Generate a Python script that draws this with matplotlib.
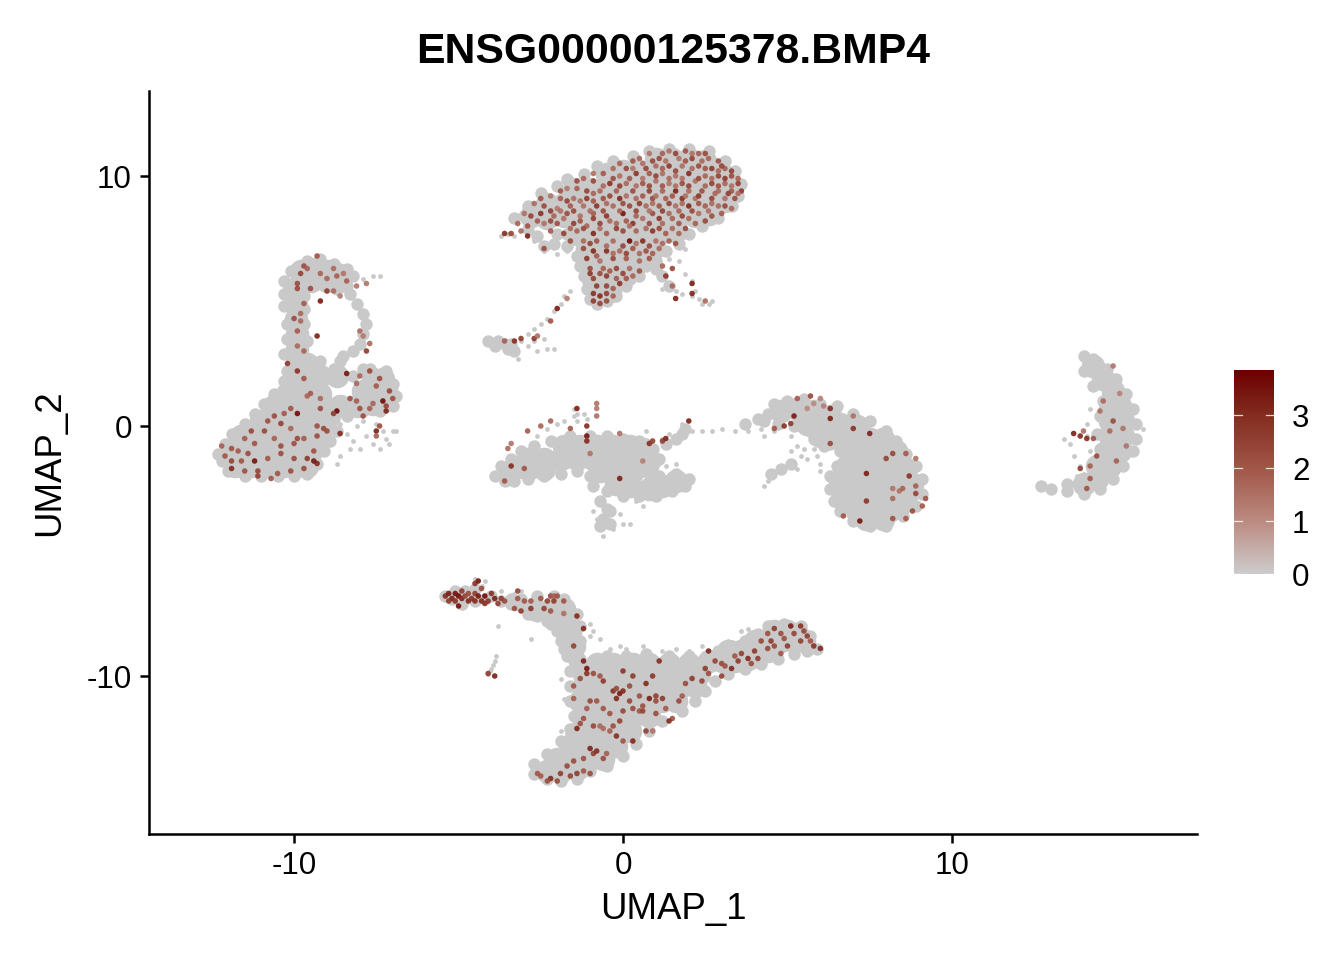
import matplotlib
matplotlib.use("Agg")
import matplotlib.pyplot as plt
from matplotlib.colors import LinearSegmentedColormap

plt.rcParams['font.family'] = ['Liberation Sans', 'DejaVu Sans']
plt.rcParams['axes.unicode_minus'] = False

title = "ENSG00000125378.BMP4"
x_ticks = [-10, 0, 10]
y_ticks = [-10, 0, 10]
bar_ticks = [0, 1, 2, 3]
value_max = 3.85

# dense zones of unexpressing cells (x, y)
gray_core = [
 # top cluster
 (1.0,10.7),(1.5,10.7),(2.0,10.7),(2.5,10.6),
 (-0.5,10.1),(0,10.2),(0.5,10.2),(1,10.1),(1.5,10.1),(2,10.1),(2.5,10.1),(3,10.1),
 (-1.5,9.5),(-1,9.5),(-0.5,9.6),(0,9.5),(0.5,9.6),(1,9.5),(1.5,9.6),(2,9.5),(2.5,9.5),(3,9.5),(3.2,9.6),
 (-2.3,8.9),(-1.8,8.9),(-1.3,9),(-0.8,8.9),(-0.3,9),(0.2,8.9),(0.7,9),(1.2,8.9),(1.7,9),(2.2,8.9),(2.7,9),(3.1,9),
 (-2.8,8.4),(-2.3,8.3),(-1.8,8.4),(-1.3,8.3),(-0.8,8.4),(-0.3,8.3),(0.2,8.4),(0.7,8.3),(1.2,8.4),(1.7,8.4),(2.2,8.4),(2.6,8.5),
 (-1.4,7.7),(-0.9,7.7),(-0.4,7.8),(0.1,7.7),(0.6,7.8),(1.1,7.7),(1.6,7.8),
 (-1.1,7.1),(-0.6,7.1),(-0.1,7.1),(0.4,7.1),(0.9,7.1),
 (-1,6.5),(-0.5,6.5),(0,6.5),(0.4,6.5),(-0.9,5.9),(-0.5,5.9),(-0.1,5.9),(-0.7,5.3),(-0.4,5.4),
 # left cluster
 (-11.8,-1.6),(-11.3,-1.6),(-10.8,-1.6),(-10.3,-1.6),(-9.9,-1.6),(-9.6,-1.6),
 (-11.9,-1),(-11.4,-1),(-10.9,-1),(-10.4,-1),(-9.9,-1),(-9.5,-1),
 (-11.6,-0.4),(-11.1,-0.4),(-10.6,-0.4),(-10.1,-0.4),(-9.6,-0.4),(-9.2,-0.4),
 (-11,0.2),(-10.5,0.2),(-10,0.2),(-9.5,0.2),(-9.1,0.2),
 (-10.6,0.8),(-10.1,0.8),(-9.6,0.8),(-9.1,0.8),(-8.6,0.8),(-8.1,0.8),(-7.6,0.9),(-7.3,1),
 (-10.2,1.3),(-9.7,1.3),(-9.2,1.3),(-7.9,1.4),(-7.5,1.4),(-7.2,1.5),
 (-10,1.9),(-9.6,1.9),(-9.2,2),(-8.7,2),(-7.6,1.9),(-7.3,1.9),
 (-9.9,2.5),(-9.6,2.5),(-9.9,3.1),(-9.9,3.7),(-9.95,4.3),(-9.95,4.9),(-10,5.5),
 (-9.8,6.2),(-9.4,6.3),(-9,6.2),(-8.7,6.1),(-9.5,5.8),(-9,5.8),(-8.6,5.8),
 # middle crescent
 (-1.8,-0.8),(-1.3,-0.8),(-0.8,-0.8),(-0.3,-0.8),(0.2,-0.8),(0.6,-0.9),
 (-2.9,-1.3),(-2.4,-1.3),(-1.9,-1.3),(-1.4,-1.3),(-0.9,-1.3),(-0.4,-1.3),(0.1,-1.3),(0.6,-1.4),(0.8,-1.4),
 (-3.4,-1.8),(-2.9,-1.7),(-2.4,-1.7),(-0.7,-1.8),(-0.2,-1.8),(0.3,-1.8),
 (-0.2,-2.3),(0.2,-2.4),(0.8,-2.5),(1.2,-2.4),(1.6,-2.2),
 # comma
 (4.8,0.6),(5.3,0.7),(5.8,0.6),(6.3,0.4),
 (5.6,0.1),(6.1,0.1),(6.6,0.1),(7.1,0),
 (6,-0.4),(6.5,-0.4),(7,-0.4),(7.5,-0.5),(7.9,-0.5),
 (6.9,-1),(7.4,-1),(7.9,-1),(8.3,-1),
 (6.8,-1.6),(7.3,-1.6),(7.8,-1.6),(8.3,-1.6),(8.6,-1.7),
 (6.6,-2.2),(7.1,-2.2),(7.6,-2.2),(8.1,-2.2),(8.6,-2.2),(8.8,-2.3),
 (6.7,-2.8),(7.2,-2.8),(7.7,-2.8),(8.2,-2.8),(8.6,-2.8),
 (7.1,-3.4),(7.6,-3.4),(8.1,-3.4),(8.4,-3.2),(7.4,-3.7),(7.9,-3.7),
 # bottom cluster
 (-2.7,-7.3),(-2.2,-7.3),(-1.8,-7.3),(-2,-7.7),(-1.7,-7.8),(-1.6,-8.3),(-1.5,-8.8),
 (-1.2,-9.9),(-0.7,-9.9),(-0.2,-9.9),(0.3,-9.9),(0.8,-9.9),(1.3,-9.9),(1.8,-9.9),(2.3,-9.9),
 (-1.2,-10.4),(-0.7,-10.4),(-0.2,-10.4),(0.3,-10.4),(0.8,-10.4),(1.3,-10.4),(1.8,-10.4),(2.2,-10.4),
 (-1.3,-11),(-0.8,-11),(-0.3,-11),(0.2,-11),(0.7,-11),(1.2,-11),(1.6,-11),
 (-1.2,-11.6),(-0.7,-11.6),(-0.2,-11.6),(0.3,-11.6),(0.8,-11.6),
 (-1.3,-12.2),(-0.8,-12.2),(-0.3,-12.2),(0.2,-12.2),
 (-1.6,-12.8),(-1.1,-12.8),(-0.6,-12.8),(-0.2,-12.8),
 (-2,-13.3),(-1.5,-13.3),(-1,-13.3),(-0.6,-13.3),(-2.3,-13.8),(-1.9,-13.8),(-1.4,-13.7),
 (2.6,-9.4),(3,-9.4),(3.4,-9.4),(3.8,-9.3),(3.2,-9),(3.6,-9),(4,-9),(4.4,-9),
 (4,-8.6),(4.4,-8.6),(4.8,-8.6),(5.2,-8.6),(5.5,-8.6),(4.6,-8.2),(5,-8.2),(5.3,-8.3),
 (-0.8,-9.5),(-0.3,-9.5),(0.3,-9.5),(0.8,-9.5),(1.4,-9.5),(2,-9.5),
 # crescent on the right
 (14.3,2.4),(14.6,1.9),(14.9,1.4),(15.1,0.8),(14.8,0.7),(15.2,0.2),(14.8,0.2),(15.2,-0.4),(14.8,-0.4),
 (15.1,-1),(14.7,-1),(14.8,-1.6),(14.4,-1.6),(14.4,-2.1),(14,-2.3),
]

# outline zones (x, y)
gray_edge = [
 (-3.3,8.3),(-3,8.4),(-2.9,8.8),(-2.5,9.3),(-2,9.6),(-1.7,9.9),(-1.2,10.1),(-0.8,10.4),(-0.3,10.6),(0.3,10.8),
 (0.8,11),(1.4,11.1),(2,11.1),(2.6,11),(3.1,10.6),(3.4,10.2),(3.6,9.7),(3.5,9.2),(3.3,8.8),(2.9,8.3),(2.4,8),(2,7.7),(1.7,7.3),
 (1.3,7),(1,6.6),(0.7,6.4),(0.5,6),(0.2,5.9),(0.1,5.6),(-0.2,5.2),(-0.5,5),(-0.8,4.9),(-1,5.1),(-1.1,5.5),(-1.2,6),(-1.3,6.4),
 (-1.4,6.8),(-1.7,7.2),(-2.1,7.3),(-2.4,7.2),(-2.6,7.6),(-2.9,7.9),(-2,7.7),(-1.7,7.7),(1,6.3),(1.2,6),(1.4,5.6),(0.8,6.5),
 (-4.1,3.4),(-3.8,3.4),(-3.6,3.3),(-3.5,3.1),(-3.9,3.2),(-3.3,3.0),(-3.4,3.3),
 (-12.2,-1.4),(-12.3,-1.1),(-12.1,-0.7),(-11.9,-0.3),(-11.5,0.1),(-11.2,0.5),(-10.9,0.9),(-10.6,1.3),(-10.3,1.8),(-10.2,2.2),
 (-12,-1.8),(-11.5,-2),(-11,-2),(-10.5,-2),(-10,-2),(-9.6,-1.9),(-9.3,-1.5),(-9.1,-1),(-8.9,-0.6),(-8.7,-0.2),(-8.8,0.3),
 (-8.4,0.4),(-7.9,0.6),(-7.4,0.6),(-7,0.8),(-6.9,1.2),(-7,1.7),(-7.2,2.2),(-7.7,2.3),(-8.2,2),(-8.8,2.3),(-9.2,2.6),(-8.6,2.6),(-7.9,2.3),
 (-10.3,2.9),(-10.2,3.5),(-9.6,3.4),(-10.2,4.1),(-9.7,4.1),(-10.3,4.8),(-9.7,4.7),(-10.3,5.3),(-9.7,5.2),(-10.3,5.8),(-10.1,6.2),
 (-9.6,6.6),(-9.2,6.7),(-8.8,6.5),(-8.4,6.3),(-8.2,6),(-8.4,5.6),(-8.7,5.5),(-8.3,5.3),(-8.1,4.9),(-7.9,4.5),(-7.8,4.1),(-7.9,3.7),(-8,3.3),(-8.2,3),(-8.5,2.8),
 (-3.9,-2),(-3.7,-1.6),(-3.4,-1.3),(-3.1,-1),(-2.7,-0.8),(-2.2,-0.6),(-1.6,-0.4),(-1,-0.4),(-0.5,-0.4),(0,-0.5),(0.5,-0.6),(0.9,-0.9),(1.1,-1.3),
 (-3.6,-2.2),(-3.3,-2.2),(-2.9,-2.1),(-2.4,-2),(-1.9,-1.9),(-1.4,-1.8),(-1,-2),(-0.9,-2.4),(-0.5,-2.6),(0,-2.8),(0.5,-2.8),(1,-2.8),(1.5,-2.6),(1.9,-2.4),(2,-2.1),(1.6,-1.9),(1.1,-2),(0.8,-1.9),
 (-0.7,-3),(-0.5,-3.3),(-0.6,-3.7),(-0.4,-3.4),(-0.7,-4),(-0.4,-3.9),
 (1.3,-0.7),(1.6,-0.5),(1.8,-0.3),(1.9,-0.1),
 (3.7,0.1),(4.1,0.3),(4.4,0.5),(4.6,0.9),(5,1),(5.5,1.1),(6,0.9),(6.5,0.8),(7,0.5),(7.5,0.2),(8,-0.2),(8.3,-0.6),(8.6,-1.1),(8.9,-1.6),(9.1,-2.1),(9.1,-2.7),(8.9,-3.2),(8.5,-3.6),(8,-4),(7.5,-4),(7,-3.8),(6.6,-3.4),(6.4,-3),(6.3,-2.5),(6.3,-2),(6.5,-1.6),(6.6,-1),(6.3,-0.7),(5.7,-0.2),(5.2,0),(4.7,0.1),(4.3,0.2),(5.8,-0.5),(6.1,-0.8),
 (4.5,-1.9),(4.8,-1.7),(5.1,-1.5),
 (-5.4,-6.8),(-5.2,-6.9),(-5.1,-6.6),(-4.8,-6.6),(-4.5,-6.5),(-4.9,-7.1),(-4.5,-7),(-4.2,-6.9),(-4,-6.8),(-3.7,-7),(-3.4,-7.1),(-3.1,-7.2),(-3.1,-6.9),(-2.6,-6.8),(-2.1,-6.8),(-1.8,-6.9),(-2.6,-7.6),(-2.3,-7.8),(-1.4,-7.5),(-1.3,-8),(-2,-8.2),(-1.9,-8.6),(-1.3,-8.6),(-1.7,-9.2),(-1.3,-9.3),(-0.9,-9.4),(-1.6,-9.8),(-1.6,-10.4),(-1.6,-11),(-1.5,-11.6),(-1.6,-12.1),(-1.9,-12.6),(-2.3,-13.1),(-2.7,-13.5),(-2.7,-13.9),(-2.3,-14.1),(-1.9,-14.2),(-1.4,-14.1),(-1,-13.8),(-0.5,-13.6),(0,-13.2),(0.4,-12.7),(0.8,-12.2),(1.2,-11.8),(1.8,-11.4),(2.2,-11),(2.5,-10.6),(2.8,-10.2),(3.2,-9.9),(3.7,-9.7),(4.2,-9.5),(4.7,-9.3),(5.2,-9.1),(5.6,-9),(5.9,-8.9),(5.7,-8.4),(5.4,-8),(4.9,-7.9),(4.4,-8),(4.1,-8.3),(3.7,-8.6),(3.3,-8.8),(2.9,-9),(2.5,-9.3),(2,-9.2),(1.4,-9.2),(0.7,-9.1),(0.1,-9.2),(-0.5,-9.2),
 (-4.7,-6.8),(-3.4,-6.9),(-2.9,-7.5),(-2.2,-7.9),(-1.8,-8.9),(-1.5,-9.4),
 (14,2.8),(14.3,2.7),(14.7,2.3),(15,1.9),(15.3,1.3),(15.5,0.7),(15.6,0.1),(15.6,-0.5),(15.5,-1),(15.2,-1.6),(14.9,-2.1),(14.5,-2.5),(14,-2.7),(13.5,-2.6),(13,-2.5),(12.7,-2.4),(13.5,-2.3),(14.5,-0.9),(14.4,-0.3),(14.5,0.4),(14.6,1),(14.3,1.6),(14,2.2),
]

# lone points (x, y)
gray_stray = [
 (-8.6,5.9),(-8.2,5.9),(-7.9,5.9),(-7.6,6),(-7.4,6),(-8.6,0.1),(-8.4,-0.3),(-8.2,-0.6),(-8,-0.9),(-7.8,-0.4),(-7.6,-0.7),(-7.4,-0.9),(-7.2,-0.5),(-7.1,-0.7),(-7.5,0.1),(-7.9,0.2),(-8.3,-0.9),(-8.6,-1.2),(-8.7,-1.5),(-7,-0.2),(-7.3,-0.2),(-6.9,-0.2),(-8.1,0),
 (-3.1,3.4),(-2.9,3.7),(-2.7,3.9),(-2.5,4.1),(-2.3,4.3),(-2.1,4.6),(-1.9,4.9),(-1.8,5.2),(-1.6,5.4),(-2.9,3.2),(-2.6,3),(-2.3,3.1),(-2.1,3.1),(-2.4,3.5),(-3.3,2.9),(-3.2,2.7),(-2.7,3.4),
 (1.9,6.1),(2.1,5.8),(2.2,5.4),(2.3,5.1),(2.4,4.9),(2.6,4.9),(2.1,5.2),(1.6,5.4),(1.8,5.3),(1.2,5.5),(2.7,5),(-3.7,7.6),(-3.5,7.7),(-3.3,7.6),(-2.4,7),(-2,6.9),(-1.7,7),(-2.7,7.4),(1.7,6.6),(1.9,7.1),(1.4,6.7),
 (-1.5,0.4),(-1.5,0.7),(-1.4,0.5),(-1.2,0.5),(-1.8,0.2),(-2,0.1),(-2.3,-0.1),(-2.6,-0.4),(-1.1,0.3),(-1.4,0.2),(1.4,-0.3),(1.2,-0.5),(1.8,0.1),(2.1,-0.2),(2.4,-0.2),(2.7,-0.2),(3,-0.1),(3.4,-0.2),(0.7,-0.2),(1,-1.7),(1.3,-1.6),(1.6,-1.5),
 (-0.9,-3.4),(-0.8,-3.7),(-0.6,-4.4),(-0.3,-4.1),(0,-3.9),(0.2,-3.9),(-0.1,-3.5),(0.4,-3),(0.6,-3.2),
 (3.8,-0.2),(4.2,-0.1),(4.3,-0.4),(4.6,-0.2),(5.1,-0.4),(5.3,-0.8),(5.1,-1),(5.5,-0.9),(5.4,-1.2),(5.6,-1.3),(4.4,-2.2),(4.3,-2.4),(5.9,-1.2),(6,-1.5),(6,-1.8),(5.3,-1.7),(5.8,-0.9),
 (-4.2,-6.2),(-4.3,-6.4),(-4.5,-6.1),(-3.7,-6.6),(-3.3,-6.7),(-3.1,-6.6),(-3.8,-8),(-2.8,-8.5),(-1,-7.9),(-0.9,-8.2),(-1,-8.4),(-0.7,-8.5),(-0.4,-8.9),(-0.1,-8.8),(0.1,-8.9),(0.6,-8.8),(1.2,-9),(1.6,-8.9),(2,-9),(2.4,-8.8),(3.2,-8.6),(3.6,-8.2),(3.8,-8.1),(-1.9,-10.1),(-1.8,-10.9),(-1.7,-12.3),(-1.9,-12.2),
 (-4.1,-9.9),(-4.05,-9.8),(-4,-9.7),(-3.95,-9.55),(-3.9,-9.4),(-3.85,-9.2),
 (13.6,-0.7),(13.7,-1.2),(13.9,-1.6),(14,-1.9),(14.1,-0.4),(14.2,-1),(14.2,-1.4),(13.8,-2),(14.1,0.1),(14.2,0.7),(15.8,-0.1),(13.4,-0.5),
]

# cells with expression (x, y, value)
expr_top = [
 (1.4,11.0,1.5),(1.9,11.0,2.0),(2.3,10.9,1.8),(0.8,10.9,1.4),(1.1,10.7,2.2),(1.7,10.7,1.4),(2.1,10.7,2.5),(2.6,10.7,1.7),(2.9,10.6,2.2),
 (0.3,10.6,2.0),(0.6,10.5,1.5),(1.0,10.4,1.6),(1.4,10.4,2.6),(1.8,10.4,1.5),(2.3,10.4,2.2),(2.7,10.3,2.6),(3.1,10.3,1.8),(-0.3,10.3,1.6),(0.1,10.3,2.3),
 (-0.6,10.1,1.9),(-0.1,10.0,1.5),(0.4,10.1,2.7),(0.8,10.1,1.9),(1.2,10.1,1.5),(1.6,10.0,1.5),(2.0,10.1,2.9),(2.5,10.0,1.7),(2.9,10.0,2.4),(3.3,10.0,2.2),
 (-1.2,9.9,1.7),(-0.9,9.8,2.3),(-0.4,9.7,2.8),(0.1,9.7,1.6),(0.6,9.7,2.0),(1.0,9.8,1.5),(1.4,9.7,1.4),(1.8,9.7,2.2),(2.2,9.8,1.5),(2.7,9.7,2.5),(3.1,9.7,1.7),(3.5,9.7,2.5),
 (-1.7,9.5,1.3),(-1.4,9.5,1.8),(-1.1,9.4,2.4),(-0.7,9.4,1.6),(-0.2,9.4,1.8),(0.3,9.4,2.2),(0.8,9.4,2.5),(1.2,9.4,1.7),(1.6,9.4,3.1),(2.0,9.4,1.6),(2.4,9.4,2.1),(2.9,9.4,1.6),(3.3,9.4,1.9),(3.6,9.4,2.6),
 (-2.2,9.2,1.4),(-1.9,9.1,1.8),(-1.5,9.1,1.5),(-1.1,9.1,2.6),(-0.6,9.1,2.1),(-0.1,9.1,3.0),(0.4,9.1,1.6),(0.9,9.1,2.3),(1.3,9.1,1.8),(1.8,9.1,2.9),(2.2,9.1,1.5),(2.7,9.1,2.4),(3.1,9.1,1.5),(3.4,9.1,2.2),
 (-2.7,8.9,1.6),(-2.4,8.8,2.2),(-2.0,8.7,1.3),(-1.6,8.8,1.9),(-1.2,8.8,1.5),(-0.8,8.8,2.7),(-0.3,8.8,1.6),(0.2,8.8,2.3),(0.7,8.8,1.6),(1.1,8.8,2.0),(1.6,8.8,1.5),(2.0,8.8,3.0),(2.5,8.8,1.8),(2.9,8.8,1.6),
 (-3.0,8.5,1.5),(-2.8,8.4,2.4),(-2.5,8.5,2.8),(-2.1,8.4,1.7),(-1.7,8.5,2.2),(-1.3,8.4,1.5),(-0.9,8.5,1.9),(-0.5,8.4,2.7),(0.0,8.5,3.4),(0.4,8.4,1.7),(0.9,8.5,2.1),(1.4,8.5,1.6),(1.8,8.4,2.4),(2.3,8.5,1.5),(2.7,8.4,2.1),
 (-3.2,8.1,1.7),(-2.9,8.0,2.0),(-2.4,8.1,1.5),(-2.0,8.1,2.1),(-1.5,8.1,2.5),(-1.1,8.0,1.7),(-0.7,8.1,2.4),(-0.2,8.1,1.6),(0.3,8.1,2.8),(0.8,8.1,2.2),(1.2,8.1,1.6),(1.7,8.1,2.0),(2.2,8.1,1.8),
 (-3.6,7.7,2.9),(-3.4,7.7,2.4),(-3.1,7.8,1.6),(-1.8,7.7,2.5),(-1.4,7.8,1.7),(-0.9,7.7,3.0),(-0.5,7.7,1.8),(0.0,7.8,2.3),(0.4,7.8,1.7),(0.9,7.8,2.7),(1.3,7.7,1.9),(1.7,7.7,1.7),
 (-2.9,7.6,3.2),(-1.6,7.4,2.2),(-1.2,7.4,1.6),(-0.8,7.4,2.0),(-0.3,7.4,1.6),(0.2,7.4,3.6),(0.6,7.4,2.9),(1.0,7.4,1.5),(1.4,7.4,1.8),
 (-2.4,7.1,2.2),(-1.2,7.1,2.3),(-0.9,7.0,3.0),(-0.5,7.0,2.9),(-0.1,7.0,1.6),(0.3,7.1,2.0),(0.7,7.0,2.1),(1.1,7.1,1.6),
 (-1.1,6.7,2.7),(-0.7,6.6,1.5),(-0.3,6.7,2.3),(0.1,6.7,1.9),(0.5,6.6,1.6),(0.8,6.7,2.0),(1.2,6.4,1.7),(1.5,6.3,2.3),
 (-1.0,6.3,2.2),(-0.6,6.3,1.8),(-0.2,6.3,2.4),(0.2,6.3,1.6),(0.5,6.2,2.1),(1.3,6.0,2.7),(1.5,5.6,1.7),
 (-0.9,5.9,2.4),(-0.5,6.0,2.6),(-0.2,5.9,1.9),(0.1,5.9,2.0),(-0.8,5.6,2.6),(-0.5,5.6,2.4),(-0.3,5.5,1.9),(-0.1,5.7,2.7),
 (-0.9,5.3,2.8),(-0.7,5.2,3.0),(-0.5,5.3,2.5),(-0.3,5.2,1.8),(-0.9,5.0,2.6),(-0.7,4.9,2.4),(-0.5,5.0,2.3),
 (2.1,5.7,3.2),(2.1,5.3,3.1),(1.6,5.1,3.2),(2.5,5.0,1.6),
 (-3.6,3.4,1.8),(-3.3,3.4,2.9),(-3.1,3.5,2.6),(-2.7,3.5,2.7),(-2.6,3.6,1.5),(-2.2,4.2,2.0),(-2.0,4.7,3.3),(-1.7,5.1,1.3),
]
# second pass over the same cluster, between the dots above
expr_top_more = [
 (1.2,10.9,1.8),(1.6,10.9,2.4),(2.1,10.9,1.5),(2.5,10.9,2.3),(0.5,10.7,1.7),(0.9,10.6,2.3),(1.3,10.6,1.5),(1.9,10.6,2.0),(2.4,10.6,1.6),(3.0,10.4,2.4),
 (-0.1,10.5,1.7),(0.3,10.3,1.4),(0.7,10.3,2.4),(1.2,10.3,1.8),(1.6,10.2,2.3),(2.1,10.3,1.6),(2.5,10.3,2.0),(2.9,10.2,1.7),(3.3,10.2,2.5),
 (-0.9,10.1,1.5),(-0.3,9.9,2.2),(0.2,9.9,1.9),(0.6,9.9,1.4),(1.0,10.0,2.4),(1.4,9.9,1.6),(1.8,9.9,1.5),(2.3,9.9,2.3),(2.7,9.9,1.6),(3.1,9.9,2.6),(3.5,9.9,1.8),
 (-1.4,9.8,2.2),(-0.6,9.6,1.6),(-0.1,9.6,2.5),(0.4,9.6,1.5),(0.8,9.6,2.3),(1.2,9.6,2.0),(1.6,9.6,1.5),(2.0,9.6,2.4),(2.5,9.6,1.7),(2.9,9.6,2.1),(3.3,9.6,1.5),
 (-1.9,9.4,2.0),(-0.9,9.3,1.7),(-0.4,9.2,2.3),(0.1,9.2,1.5),(0.6,9.2,1.9),(1.0,9.2,1.5),(1.5,9.2,2.0),(1.9,9.2,1.5),(2.3,9.2,2.7),(2.8,9.3,1.7),(3.2,9.3,2.5),(3.5,9.3,1.6),
 (-2.5,9.1,2.0),(-1.7,9.0,2.4),(-1.3,9.0,1.5),(-0.9,9.0,1.9),(-0.5,8.9,1.6),(0.0,8.9,2.2),(0.5,8.9,2.6),(0.9,8.9,1.5),(1.4,8.9,2.4),(1.8,8.9,1.6),(2.3,8.9,2.0),(2.7,8.9,1.6),(3.1,8.8,2.3),(3.3,8.7,1.7),
 (-2.2,8.6,2.5),(-1.9,8.6,1.5),(-1.5,8.6,2.3),(-1.0,8.6,1.6),(-0.6,8.6,2.2),(-0.1,8.6,1.7),(0.4,8.6,2.4),(0.8,8.6,1.5),(1.2,8.6,2.5),(1.7,8.6,1.7),(2.1,8.6,2.3),(2.6,8.6,1.5),(3.0,8.5,1.9),
 (-2.6,8.2,1.9),(-2.2,8.2,2.3),(-1.8,8.3,1.5),(-1.3,8.2,2.0),(-0.9,8.3,2.5),(-0.4,8.2,1.6),(0.1,8.2,1.9),(0.6,8.3,1.5),(1.1,8.3,2.7),(1.5,8.3,1.7),(2.0,8.3,1.6),(2.5,8.2,2.3),
 (-2.2,7.8,1.9),(-1.6,7.9,1.6),(-1.2,7.9,2.3),(-0.7,7.9,1.5),(-0.2,7.9,2.5),(0.2,8.0,1.6),(0.7,7.9,1.6),(1.1,7.9,2.3),(1.5,7.9,1.6),(1.9,7.9,2.2),
 (-1.0,7.3,2.4),(-0.5,7.2,1.6),(0.0,7.2,2.4),(0.4,7.3,1.5),(0.8,7.2,2.3),(1.2,7.3,1.6),(1.6,7.3,2.1),
 (-0.8,6.8,1.9),(-0.3,6.9,1.6),(0.1,6.9,2.4),(0.5,6.9,1.6),(0.9,6.9,1.8),(-1.0,6.1,2.7),(-0.7,6.1,2.2),(-0.4,6.2,1.9),(0.0,6.1,2.4),(0.3,6.0,1.7),
]
expr_left = [
 (-9.3,6.8,2.0),(-9.7,6.4,2.2),(-9.6,6.3,1.8),(-9.8,6.1,2.4),(-9.2,6.1,1.7),(-8.7,6.0,1.8),(-8.8,6.3,1.6),(-8.5,6.1,1.4),(-8.4,5.8,1.8),(-9,5.9,1.7),(-9.9,5.7,2.2),(-9.9,5.5,2.3),(-9.5,5.5,2.2),(-9,5.4,2.6),(-8.8,5.4,1.6),(-8.6,5.2,1.3),(-9.2,5.0,3.3),(-8.1,5.6,1.4),(-7.8,5.7,1.4),
 (-9.7,4.9,1.9),(-9.8,4.5,1.6),(-10,4.3,2.2),(-9.8,4.2,1.6),(-9.9,3.8,1.9),(-9.3,3.6,3.2),(-9.9,3.2,1.6),(-9.7,3,1.7),(-8,3.8,1.5),(-7.9,3.6,1.3),(-7.7,3.3,1.6),(-7.8,3,2.6),(-10.2,2.5,2.6),(-9.9,2.2,2.8),(-9.7,1.9,2.0),(-8.4,2.1,3.4),
 (-8,2,1.7),(-7.5,1.6,1.9),(-7.1,1.4,2.3),(-7,1.1,2.1),(-7.3,1,3.6),(-7.2,0.8,2.4),(-7.2,0.6,3.1),(-7.6,0.9,1.7),(-7.7,0.7,1.8),(-8.3,1.1,2.1),(-8.1,1.0,1.8),(-8,0.7,2.1),(-7.9,0.4,2.2),(-8.1,1.7,1.6),(-7.4,1.9,2.2),(-7.7,2.2,2.3),
 (-8.7,0.6,3.7),(-8.8,0.5,2.6),(-9.2,0.7,2.2),(-9.5,1.3,1.9),(-9.2,1.1,1.6),(-9.6,1.2,1.7),(-9.9,0.5,3.6),(-10.1,0.7,2.0),(-10.6,0.4,2.2),(-10.3,0.5,1.9),(-10.4,0.1,2.5),(-10.8,0.2,2.1),(-10.9,-0.2,2.3),(-10.6,-0.5,1.8),
 (-9.3,0.0,2.1),(-9.1,-0.1,2.3),(-9,-0.2,2.2),(-8.6,-0.3,3.0),(-7.5,-0.2,3.2),(-7.4,0.0,2.2),(-7.5,-0.4,1.8),(-9.3,-0.4,2.2),(-9.7,-0.5,1.9),(-10,-0.7,2.1),(-10.4,-0.8,2.2),(-10.1,-0.1,1.7),(-11.3,-0.2,2.3),(-11.5,-0.5,1.9),(-11.2,-0.7,2.0),
 (-11.9,-0.9,2.1),(-11.7,-1,1.9),(-11.4,-1.1,2.2),(-11.9,-1.4,2.4),(-12.2,-0.8,1.8),(-12.1,-1.2,2.0),(-11.6,-1.4,2.0),(-11.2,-1.4,3.4),(-10.8,-1.3,2.0),(-10.4,-1.1,2.2),(-10,-1.3,2.3),(-9.6,-1.3,2.6),(-9.4,-1.0,2.1),(-9.3,-1.5,3.0),
 (-11.9,-1.7,3.0),(-11.5,-1.8,2.1),(-11.1,-1.8,2.4),(-10.5,-1.9,2.0),(-10.1,-1.8,2.2),(-9.7,-1.7,2.3),(-10.7,-2.1,2.0),(-11.1,-2.0,2.5),(-9.4,-1.4,3.4),(-9.9,-0.5,2.3),
]
expr_middle = [
 (-3.6,-2.2,2.0),(-3.4,-1.6,2.9),(-3.4,-0.7,1.4),(-3.5,-0.9,1.6),(-3.0,-1.7,2.0),(-2.9,-0.2,1.9),(-2.5,0,1.7),(-2.2,0.2,1.7),(-1.6,-0.1,1.9),(-1.1,0,2.9),(-1.1,-0.4,3.4),(-1.1,-0.6,3.0),(-1.4,0.7,3.2),(-0.8,0.9,1.4),(-0.8,0.7,1.3),(-0.8,0.4,1.5),(-0.1,-0.3,1.5),(-1,-1.1,1.4),(0.6,-1.4,1.2),(0.8,-0.7,2.9),(0.9,-0.6,2.5),(1.2,-0.6,2.5),(1.3,-0.5,3.1),(-0.1,-2.1,3.2),(2.0,0.2,3.2),
 (5.3,1.1,1.9),(5.7,1.2,2.3),(6,1.1,1.2),(5.8,0.9,1.0),(5.6,0.7,1.0),(6.1,0.8,1.2),(6.3,0.7,3.0),(5.2,0.4,3.3),(5.1,0.1,2.6),(4.6,-0.1,2.0),(4.9,0,2.8),(6.3,0.3,3.2),(7,0.4,1.5),(7,-0.1,2.8),(7.5,-0.3,3.1),(6.3,-0.7,2.3),
 (8.2,-1.1,2.3),(8.6,-1.1,1.9),(8.9,-1.3,1.4),(8,-1.3,2.4),(7.4,-1.9,3.2),(8.7,-2.0,2.8),(8.9,-2.4,1.8),(8.4,-2.6,1.4),(8.5,-2.5,1.7),(8.9,-2.7,2.4),(8.8,-3.4,2.2),(7.2,-3.8,3.4),(8.2,-3.7,2.1),(8.6,-3.7,1.9),(6.7,-3.6,2.0),(7.4,-3.0,2.8),(8.2,-2.5,1.4),(8.2,-2.9,1.6),(9.2,-2.9,2.0),(9.1,-3.2,1.9),
 (14.9,2.4,1.4),(15.1,1.3,1.2),(14.6,1,1.6),(14.5,0.6,1.5),(14.9,0.2,2.2),(15.2,-0.1,1.4),(13.7,-0.3,3.2),(13.9,-0.4,3.0),(14.1,-0.5,2.9),(14.3,-0.5,2.0),(14.0,-0.2,1.5),(14.8,-0.2,1.6),(15.3,-0.8,1.4),(14.4,-1.2,2.2),(14.2,-1.6,1.8),(14.2,-2.1,1.9),(13.9,-1.7,2.5),(15,-1.4,1.8),(14.1,-2.5,2.0),
]
expr_bottom = [
 (-5.4,-6.8,3.0),(-5.3,-6.7,3.3),(-5.2,-6.9,3.2),(-5.1,-6.7,3.5),(-5.1,-7,2.8),(-5,-6.8,3.6),(-4.9,-6.9,3.1),(-4.9,-6.6,2.6),(-4.8,-6.8,2.4),(-4.7,-7,3.0),(-4.7,-6.7,2.2),(-4.6,-6.9,2.8),(-4.5,-6.7,2.5),(-4.5,-7.0,3.0),(-4.4,-6.8,3.4),(-4.3,-7,3.0),(-4.2,-6.8,3.5),(-4.1,-7,2.7),(-4.0,-6.7,2.8),(-3.9,-6.9,3.2),(-3.8,-7.1,2.5),(-3.7,-6.9,2.6),(-4.5,-6.3,2.7),(-4.4,-6.2,3.4),(-4.3,-6.5,2.2),(-5.3,-7,2.6),(-5,-7.2,3.5),(-4.2,-7.1,2.8),(-3.6,-7,2.3),
 (-3.2,-6.6,2.4),(-3.2,-6.9,2.0),(-3,-7,2.0),(-2.8,-7,1.9),(-3.3,-7.3,2.2),(-3.1,-7.4,2.6),(-2.8,-7.3,2.7),(-2.5,-6.9,2.0),(-2.3,-7.0,2.5),(-2.2,-6.8,2.2),(-2.1,-6.8,1.8),(-2,-6.8,2.1),(-1.8,-7,2.0),(-2.4,-7.3,2.5),(-2.1,-7,2.6),(-2.2,-7.4,2.0),(-1.8,-7.5,1.5),(-1.4,-7.6,3.0),(-1.2,-8.1,3.0),(-1.5,-8.8,2.4),(-1.2,-9.4,3.2),(-1.1,-9.7,3.4),(-1.1,-9.9,2.8),(-1.3,-10.1,2.2),(-0.9,-9.9,2.2),(-0.7,-10,2.0),(-0.6,-10.2,2.6),(-1.5,-10.4,2.0),(-1.5,-10.9,1.8),(-1.4,-12.1,3.1),
 (-0.3,-10.6,2.8),(-0.2,-10.9,3.0),(-0.1,-10.7,3.3),(0.0,-10.6,3.0),(0.2,-10.4,2.2),(-0.2,-10.5,2.3),(0.2,-11.0,2.3),(0.3,-11.3,2.2),(0.5,-11.4,2.0),(0.6,-11.4,2.4),(0.6,-11.2,2.1),(0.5,-10.8,2.1),(1.2,-10.9,2.6),(1.0,-11.0,2.2),(1.0,-11.5,2.2),(1.3,-11.3,1.9),(1.5,-11.7,2.0),(1.4,-11.8,3.0),(0.8,-10.9,3.2),(1.0,-10.8,2.5),
 (0.0,-11.4,2.3),(-0.1,-11.8,2.4),(-0.3,-12,2.2),(-0.4,-11.5,2.0),(-0.6,-11.3,2.0),(-0.8,-11,2.0),(-1,-11.0,2.3),(-1.1,-11.3,1.9),(-1.2,-11.7,2.1),(-1.3,-11.9,2.2),(-0.9,-12,2.3),(-0.7,-12,1.6),(-0.6,-12.1,1.6),(-0.4,-12.2,1.8),(-0.2,-12.4,2.9),(0.0,-12.6,2.0),(0.3,-12.6,3.0),(0.7,-12.2,2.4),(0.9,-12.2,1.4),
 (-1.0,-12.9,3.1),(-0.9,-13.1,2.5),(-0.8,-13,2.9),(-0.6,-13.3,2.2),(-0.5,-13.1,1.8),(-1.2,-13.3,2.1),(-1.5,-13.4,2.2),(-1.7,-13.6,2.3),(-1.9,-13.9,2.5),(-1.6,-14,2.4),(-1.4,-13.9,2.6),(-1.2,-13.8,2.0),(-1.0,-13.9,2.2),(-2.0,-14.2,2.3),(-2.2,-14.1,3.0),(-2.3,-14.2,2.2),(-2.5,-14.0,1.9),(-2.6,-13.9,2.0),
 (0.9,-10.0,2.7),(1.9,-10.3,2.2),(2.1,-10.1,2.6),(2.4,-10.2,2.4),(2.5,-9.7,2.6),(2.6,-9.9,2.2),(2.8,-9.4,2.4),(3.0,-9.5,2.3),(3.1,-9.6,2.1),(3.0,-10,2.5),(3.3,-9.7,3.0),(3.4,-9.2,2.0),(3.5,-9.4,2.6),(3.6,-9.1,2.5),(3.8,-9.3,3.0),(3.9,-9.5,2.2),(4.0,-9.0,2.6),(4.1,-9.3,2.5),(4.4,-8.9,2.3),(4.6,-8.8,2.3),(4.8,-9.1,2.0),(4.9,-8.5,2.1),(5.0,-8.8,2.6),(5.2,-8.3,2.4),(5.4,-8.0,2.8),(5.1,-8.0,3.2),(5.5,-8.2,2.4),(5.6,-8.4,2.6),(5.8,-8.8,2.8),(6.0,-8.9,3.0),(5.4,-8.6,2.5),(5.7,-8.6,2.0),(4.8,-8.3,2.2),(4.6,-8.1,2.6),(4.4,-8.3,2.1),(4.5,-8.6,2.6),(4.2,-8.6,2.3),
 (0.0,-9.8,2.7),(0.3,-10.0,2.6),(0.7,-10.3,3.0),(1.1,-9.4,2.9),(2.6,-9.0,3.0),(-4.1,-9.9,2.6),(-3.9,-10.0,3.2),(1.8,-10.8,1.9),(1.7,-11.0,2.3),
]

cmap = LinearSegmentedColormap.from_list(
    "feature", [(0, "#CCCCCC"), (1/value_max, "#BB8A80"), (2/value_max, "#A15648"),
                (3/value_max, "#832C20"), (1, "#6B0000")])

fig = plt.figure(figsize=(6.72, 4.8), dpi=200)
ax = fig.add_axes([149/1344, 1-834/960, (1197-149)/1344, (834-91)/960])
GRAY = "#C9C9C9"
for pts, s in ((gray_core, 72), (gray_edge, 20), (gray_stray, 3.0)):
    ax.scatter([p[0] for p in pts], [p[1] for p in pts], s=s, c=GRAY, linewidths=0, zorder=2)
sc = None
for pts in (expr_left, expr_middle, expr_bottom, expr_top, expr_top_more):
    sc = ax.scatter([p[0] for p in pts], [p[1] for p in pts], c=[p[2] for p in pts],
                    s=4.0, cmap=cmap, vmin=0, vmax=value_max, linewidths=0, alpha=0.92, zorder=3)

ax.set_xlim(-14.41, 17.45)
ax.set_ylim(-16.32, 13.4)
ax.set_xticks(x_ticks)
ax.set_yticks(y_ticks)
ax.tick_params(labelsize=11.3, width=0.9, length=3.2, pad=3, colors="black")
ax.spines[['top', 'right']].set_visible(False)
ax.spines[['left', 'bottom']].set_linewidth(0.9)
ax.set_xlabel("UMAP_1", fontsize=13.2, labelpad=4)
ax.set_ylabel("UMAP_2", fontsize=13.2, labelpad=7)
ax.set_title(title, fontsize=15.4, fontweight="bold", pad=10)

cax = fig.add_axes([1234/1344, 1-574/960, 40/1344, 204/960])
cb = fig.colorbar(sc, cax=cax)
cb.solids.set_alpha(1)
cb.outline.set_visible(False)
cb.set_ticks(bar_ticks)
cax.tick_params(length=0, labelsize=11.3, pad=6.5)
for v in bar_ticks:
    cax.plot([0, 0.2], [v, v], color="white", lw=0.45, alpha=0.8)
    cax.plot([0.8, 1], [v, v], color="white", lw=0.45, alpha=0.8)
cax.set_xlim(0, 1)
cax.set_ylim(0, value_max)

fig.savefig("out.png", dpi=200)
